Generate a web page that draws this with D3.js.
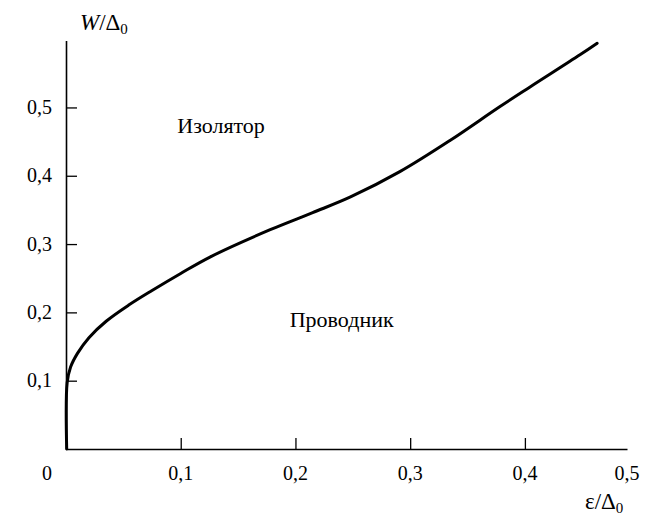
<!DOCTYPE html>
<html>
<head>
<meta charset="utf-8">
<script src="https://cdn.jsdelivr.net/npm/d3@7"></script>
<style>
  body { margin: 0; background: #fff; }
</style>
</head>
<body>
<div id="chart"></div>
<script>
// Données
const eps = [0.0006, 0.001, 0.004, 0.010, 0.020, 0.035, 0.055, 0.075, 0.1, 0.1255,
             0.178, 0.215, 0.248, 0.291, 0.335, 0.378, 0.4045, 0.448, 0.463];
const wVals = [0, 0.097, 0.120, 0.140, 0.163, 0.187, 0.211, 0.232, 0.257, 0.281,
               0.321, 0.346, 0.369, 0.406, 0.452, 0.501, 0.530, 0.577, 0.594];
const xTicks = [0.1, 0.2, 0.3, 0.4];
const xTickLabels = ["0,1", "0,2", "0,3", "0,4"];
const yTicks = [0.1, 0.2, 0.3, 0.4, 0.5];
const yTickLabels = ["0,1", "0,2", "0,3", "0,4", "0,5"];
const regions = [
    { name: "Изолятор", e: 0.097, w: 0.463 },
    { name: "Проводник", e: 0.195, w: 0.179 }
];

const width = 650, height = 516;
const svg = d3.select("#chart").append("svg")
    .attr("width", width)
    .attr("height", height)
    .attr("font-family", "Liberation Serif");

// Échelles
const x = d3.scaleLinear().domain([0, 0.489]).range([66, 627]);
const y = d3.scaleLinear().domain([0, 0.598]).range([449, 40.5]);

// Axe X
const xAxis = svg.append("g")
    .attr("transform", `translate(0,${y(0)})`)
    .call(d3.axisBottom(x).tickValues(xTicks).tickSizeInner(-11).tickSizeOuter(0).tickFormat(""))
    .attr("font-family", null);
xAxis.select(".domain").attr("stroke-width", 1.6);
xAxis.selectAll(".tick line").attr("stroke-width", 1.3);
xAxis.selectAll(".tick text").remove();

// Axe Y
const yAxis = svg.append("g")
    .attr("transform", `translate(${x(0)},0)`)
    .call(d3.axisLeft(y).tickValues(yTicks).tickSizeInner(-11).tickSizeOuter(0).tickFormat(""))
    .attr("font-family", null);
yAxis.select(".domain").attr("stroke-width", 1.6);
yAxis.selectAll(".tick line").attr("stroke-width", 1.3);
yAxis.selectAll(".tick text").remove();

// Étiquettes des graduations
const labels = svg.append("g")
    .attr("font-family", "Liberation Serif")
    .attr("font-size", 20)
    .attr("fill", "#000");

labels.selectAll(".xlab")
    .data(xTicks)
    .enter().append("text")
    .attr("class", "xlab")
    .attr("x", d => x(d))
    .attr("y", 480)
    .attr("text-anchor", "middle")
    .text((d, i) => xTickLabels[i]);

labels.append("text")
    .attr("x", x.range()[1])
    .attr("y", 480)
    .attr("text-anchor", "middle")
    .text("0,5");

labels.append("text")
    .attr("x", 47)
    .attr("y", 480)
    .attr("text-anchor", "middle")
    .text("0");

labels.selectAll(".ylab")
    .data(yTicks)
    .enter().append("text")
    .attr("class", "ylab")
    .attr("x", 52)
    .attr("y", d => y(d))
    .attr("dy", "0.33em")
    .attr("text-anchor", "end")
    .text((d, i) => yTickLabels[i]);

// Titres des axes
const yTitle = labels.append("text")
    .attr("x", 80)
    .attr("y", 30)
    .attr("font-size", 23);
yTitle.append("tspan").attr("font-style", "italic").text("W");
yTitle.append("tspan").text("/Δ");
yTitle.append("tspan").attr("dy", 4).attr("font-size", 15).text("0");

const xTitle = labels.append("text")
    .attr("x", 585)
    .attr("y", 509)
    .attr("font-size", 23);
xTitle.append("tspan").text("ε/Δ");
xTitle.append("tspan").attr("dy", 4).attr("font-size", 15).text("0");

// Courbe
const line = d3.line()
    .x((d, i) => x(eps[i]))
    .y((d, i) => y(wVals[i]))
    .curve(d3.curveCatmullRom.alpha(0.5));

svg.append("path")
    .datum(wVals)
    .attr("d", line)
    .attr("fill", "none")
    .attr("stroke", "#000")
    .attr("stroke-width", 3)
    .attr("stroke-linecap", "round");

// Régions
labels.selectAll(".region")
    .data(regions)
    .enter().append("text")
    .attr("class", "region")
    .attr("x", d => x(d.e))
    .attr("y", d => y(d.w))
    .attr("font-size", 22)
    .text(d => d.name);
</script>
</body>
</html>
